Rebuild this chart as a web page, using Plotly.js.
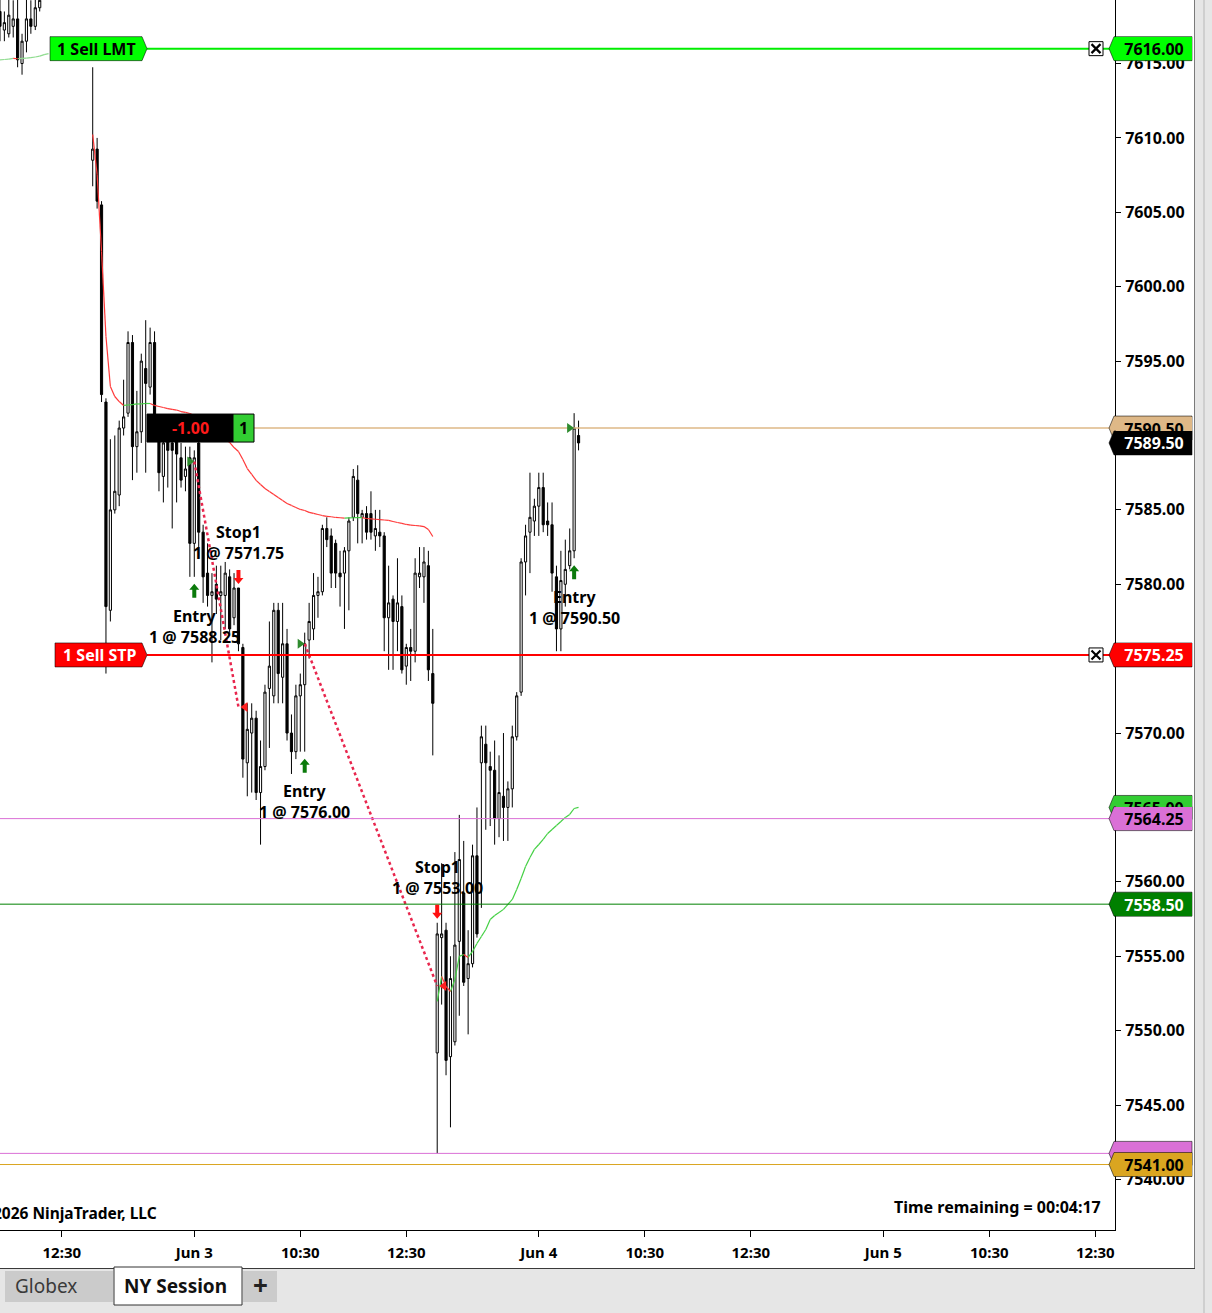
<!DOCTYPE html>
<html><head><meta charset="utf-8">
<script src="https://cdn.plot.ly/plotly-3.0.1.min.js"></script>
<style>html,body{margin:0;padding:0;background:#fff;overflow:hidden}#chart{width:1212px;height:1313px}</style>
</head><body><div id="chart"></div>
<script>
// ================= DATA =================
function seq(a, b) { const r = []; for (let i = a; i <= b; i++) r.push(i); return r; }

// bar slots (5-minute bars, 0 = Jun 3 session open)
const barIndex = seq(-44, -35).concat(seq(-23, 87));

const openP = [
  7618.5, 7617.25, 7617.0, 7617.5, 7618.0, 7615.0, 7616.5, 7618.0, 7617.5, 7618.75,
  7608.5, 7609.25, 7605.5, 7592.25, 7578.25, 7585.0, 7586.0, 7590.5, 7591.5, 7596.25,
  7589.25, 7590.25, 7594.5, 7593.25, 7596.25, 7590.25, 7587.25, 7590.0, 7589.5, 7589.75,
  7588.5, 7587.25, 7588.5, 7582.75, 7589.5, 7583.5, 7580.75, 7579.25, 7580.0, 7579.25,
  7579.25, 7580.5, 7577.75, 7579.75, 7575.75, 7568.0, 7570.0, 7571.0, 7566.0, 7567.75,
  7573.0, 7572.5, 7578.25, 7573.75, 7576.0, 7570.0, 7568.75, 7572.5, 7573.25, 7576.25,
  7577.0, 7579.25, 7579.5, 7583.75, 7583.25, 7582.75, 7580.75, 7580.75, 7582.25, 7584.5,
  7587.0, 7584.5, 7584.75, 7584.75, 7583.25, 7583.5, 7583.25, 7577.75, 7579.0, 7577.5,
  7578.5, 7574.5, 7575.75, 7575.5, 7580.5, 7580.5, 7581.25, 7574.0,
  7548.5, 7556.25, 7556.75, 7548.25, 7549.25, 7556.0, 7559.25, 7553.5, 7554.5, 7561.75,
  7568.0, 7569.25, 7567.75, 7567.5, 7564.25, 7565.75, 7565.0, 7566.25, 7569.75, 7572.75,
  7581.5, 7583.5, 7584.25, 7585.25, 7586.5, 7584.25, 7584.0, 7580.5, 7577.0, 7580.0,
  7581.25, 7582.25, 7590.0
];
const highP = [
  7619.5, 7618.5, 7619.5, 7619.25, 7619.5, 7617.0, 7619.5, 7619.25, 7619.5, 7620.0,
  7614.75, 7610.0, 7605.75, 7592.5, 7589.75, 7590.0, 7591.0, 7593.75, 7597.0, 7596.75,
  7593.0, 7595.5, 7597.75, 7597.25, 7597.0, 7591.0, 7591.0, 7591.25, 7590.75, 7590.5,
  7589.5, 7589.25, 7589.25, 7589.0, 7590.0, 7584.0, 7582.75, 7580.75, 7581.25, 7581.25,
  7581.5, 7581.0, 7580.75, 7579.75, 7576.0, 7572.0, 7572.0, 7571.5, 7569.5, 7573.25,
  7577.5, 7578.75, 7578.75, 7578.75, 7577.0, 7571.25, 7573.25, 7574.0, 7576.75, 7578.75,
  7580.75, 7580.5, 7584.0, 7584.5, 7583.75, 7583.0, 7582.25, 7582.5, 7584.5, 7587.75,
  7588.0, 7585.0, 7585.25, 7586.25, 7585.0, 7585.0, 7583.5, 7581.25, 7579.25, 7581.75,
  7579.25, 7576.0, 7577.0, 7581.75, 7582.5, 7582.5, 7582.25, 7577.0,
  7557.25, 7561.25, 7557.25, 7555.0, 7562.0, 7564.5, 7562.75, 7556.75, 7562.5, 7565.0,
  7570.5, 7570.5, 7568.75, 7569.5, 7568.5, 7570.0, 7566.75, 7570.5, 7572.75, 7581.75,
  7584.0, 7587.5, 7585.75, 7587.5, 7587.5, 7585.5, 7585.5, 7581.25, 7582.25, 7583.0,
  7583.75, 7591.5, 7591.0
];
const lowP = [
  7616.5, 7616.5, 7616.75, 7616.75, 7614.75, 7614.25, 7615.75, 7617.0, 7617.25, 7618.5,
  7606.75, 7605.25, 7592.25, 7574.0, 7577.5, 7584.75, 7585.25, 7590.0, 7591.25, 7587.0,
  7587.5, 7589.5, 7587.5, 7592.75, 7589.75, 7586.25, 7585.5, 7586.5, 7583.75, 7585.5,
  7586.5, 7586.25, 7580.5, 7580.5, 7581.75, 7578.75, 7578.5, 7574.75, 7578.0, 7576.25,
  7577.0, 7576.75, 7577.25, 7575.5, 7567.0, 7565.75, 7566.0, 7565.5, 7562.5, 7567.5,
  7569.0, 7572.0, 7572.0, 7572.0, 7569.5, 7567.25, 7568.25, 7568.75, 7568.75, 7575.0,
  7576.25, 7577.75, 7579.25, 7582.5, 7579.75, 7579.75, 7578.5, 7577.0, 7578.25, 7584.25,
  7582.75, 7582.75, 7583.0, 7583.0, 7582.25, 7582.5, 7575.5, 7574.25, 7574.25, 7575.5,
  7574.0, 7573.25, 7573.5, 7574.75, 7579.75, 7578.75, 7573.5, 7568.5,
  7541.75, 7551.75, 7547.0, 7543.5, 7549.0, 7551.0, 7553.0, 7549.75, 7554.25, 7556.25,
  7558.25, 7563.5, 7563.75, 7562.5, 7563.0, 7562.75, 7562.75, 7565.0, 7569.5, 7572.5,
  7579.25, 7580.75, 7583.25, 7583.25, 7583.5, 7583.25, 7579.5, 7575.5, 7575.5, 7578.5,
  7581.0, 7581.75, 7589.0
];
const closeP = [
  7617.5, 7617.75, 7618.25, 7618.0, 7615.25, 7616.5, 7618.0, 7617.5, 7618.75, 7619.25,
  7609.25, 7605.75, 7592.75, 7578.5, 7585.0, 7586.25, 7590.5, 7591.25, 7596.25, 7589.25,
  7590.25, 7595.0, 7593.5, 7596.25, 7590.5, 7587.5, 7589.5, 7589.0, 7589.0, 7588.75,
  7587.0, 7587.75, 7582.75, 7588.5, 7583.5, 7580.5, 7579.25, 7579.5, 7579.0, 7579.5,
  7580.75, 7577.0, 7579.75, 7576.0, 7568.25, 7570.25, 7571.0, 7566.0, 7567.75, 7572.75,
  7574.5, 7578.25, 7574.0, 7576.0, 7570.0, 7568.75, 7572.5, 7573.25, 7576.0, 7577.5,
  7579.25, 7579.5, 7583.75, 7583.0, 7580.75, 7580.75, 7580.5, 7582.25, 7584.25, 7587.25,
  7584.75, 7584.75, 7583.5, 7583.5, 7583.75, 7583.25, 7577.75, 7578.75, 7577.5, 7578.75,
  7574.25, 7575.75, 7575.5, 7580.75, 7580.75, 7581.5, 7574.25, 7572.0,
  7556.5, 7556.5, 7548.0, 7553.5, 7555.75, 7561.5, 7553.25, 7554.5, 7561.75, 7556.5,
  7569.75, 7568.0, 7567.5, 7564.25, 7566.0, 7565.0, 7566.25, 7569.75, 7572.5, 7581.5,
  7583.25, 7584.5, 7585.25, 7586.5, 7584.0, 7584.0, 7580.75, 7577.0, 7580.25, 7581.0,
  7582.25, 7590.5, 7589.5
];

// session VWAP
const vwap1Index = seq(-44, -33);
const vwap1 = [7615.24, 7615.27, 7615.30, 7615.35, 7615.32, 7615.34, 7615.37, 7615.40, 7615.44, 7615.50, 7615.60, 7615.67];
const vwap2Index = seq(-23, 54);
const vwap2 = [
  7610.23, 7607.54, 7602.37, 7596.65, 7593.29, 7592.62, 7592.28, 7592.02, 7592.05, 7592.08,
  7592.12, 7592.12, 7592.15, 7592.15, 7592.02, 7591.95, 7591.88, 7591.81, 7591.75, 7591.71,
  7591.61, 7591.55, 7591.48, 7591.34, 7591.21, 7591.08, 7590.81, 7590.60, 7590.34, 7590.07,
  7589.80, 7589.53, 7589.19, 7588.92, 7588.39, 7587.78, 7587.38, 7586.98, 7586.71, 7586.44,
  7586.24, 7586.03, 7585.83, 7585.63, 7585.43, 7585.30, 7585.16, 7585.03, 7584.96, 7584.83,
  7584.76, 7584.69, 7584.62, 7584.56, 7584.54, 7584.49, 7584.47, 7584.45, 7584.46, 7584.47,
  7584.48, 7584.48, 7584.42, 7584.39, 7584.37, 7584.35, 7584.32, 7584.29, 7584.22, 7584.15,
  7584.09, 7584.02, 7583.98, 7583.95, 7583.92, 7583.88, 7583.68, 7583.21
];
const vwap3Index = seq(55, 87);
const vwap3 = [
  7551.96, 7553.64, 7552.97, 7552.63, 7553.44, 7554.99, 7555.12, 7554.92, 7555.32, 7555.86,
  7556.33, 7556.80, 7557.47, 7557.74, 7557.94, 7558.15, 7558.48, 7558.82, 7559.49, 7560.23,
  7561.03, 7561.64, 7562.18, 7562.51, 7562.85, 7563.25, 7563.52, 7563.79, 7564.06, 7564.33,
  7564.53, 7564.93, 7565.00
];

// time axis
const tickBars = [-30, 0, 24, 48, 78, 102, 126, 156, 180, 204];
const tickLabels = ['12:30', 'Jun 3', '10:30', '12:30', 'Jun 4', '10:30', '12:30', 'Jun 5', '10:30', '12:30'];
// price axis labels left visible (the others sit under price tags)
const priceTicks = [7540, 7545, 7550, 7555, 7560, 7570, 7580, 7585, 7595, 7600, 7605, 7610, 7615];

// trades
const entryBars = [0, 25, 86];
const entryPrices = [7588.25, 7576.00, 7590.50];
const exitBars = [10, 55];
const exitPrices = [7571.75, 7553.00];
const exitNames = ['Stop1', 'Stop1'];
const tradeQty = 1;

// working orders
const orderPrices = [7616.00, 7575.25];
const orderLabels = ['1 Sell LMT', '1 Sell STP'];

// position / price markers
const positionPrice = 7590.50;
const positionPnl = '-1.00';
const positionQty = '1';
const lastPrice = 7589.50;
const vwapLast = 7565.00;
const levelPrices = [7564.25, 7558.50, 7541.75, 7541.00];

// ================= LAYOUT HELPERS =================
const F = '"Noto Sans", "Open Sans", sans-serif';
const PW = 1115, PH = 1230;
const px = x => x / PW;
const py = y => (PH - y) / PH;
const fmt = v => v.toFixed(2);
const barAt = i => barIndex.indexOf(i);

const traces = [];
traces.push({
  type: 'candlestick', x: barIndex, open: openP, high: highP, low: lowP, close: closeP,
  increasing: {line: {color: '#000', width: 1}, fillcolor: '#ffffff'},
  decreasing: {line: {color: '#000', width: 1}, fillcolor: '#000000'},
  whiskerwidth: 0, hoverinfo: 'skip', showlegend: false
});

function vwapTraces(xs, ys, gcol) {
  const g = {x: [], y: []}, r = {x: [], y: []};
  for (let i = 1; i < xs.length; i++) {
    const t = ys[i] >= ys[i - 1] ? g : r;
    t.x.push(xs[i - 1], xs[i], null); t.y.push(ys[i - 1], ys[i], null);
  }
  return [
    {type: 'scatter', mode: 'lines', x: g.x, y: g.y, line: {color: gcol, width: 1.2}, hoverinfo: 'skip', showlegend: false},
    {type: 'scatter', mode: 'lines', x: r.x, y: r.y, line: {color: '#ff3838', width: 1.2}, hoverinfo: 'skip', showlegend: false}
  ];
}
traces.push(...vwapTraces(vwap1Index, vwap1, '#8fdc8f'));
traces.push(...vwapTraces(vwap2Index, vwap2, '#44d044'));
traces.push(...vwapTraces(vwap3Index, vwap3, '#44d044'));

for (let i = 0; i < exitBars.length; i++) {
  traces.push({type: 'scatter', mode: 'lines', x: [entryBars[i], exitBars[i]], y: [entryPrices[i], exitPrices[i]],
    line: {color: '#e8264d', width: 2.5, dash: 'dot'}, hoverinfo: 'skip', showlegend: false});
}

const shapes = [];
const annotations = [];

// level lines
const lineSpec = [
  [orderPrices[0], '#00ee00', 2, 147], [orderPrices[1], '#ff0000', 2, 147],
  [positionPrice, '#deb887', 1.5, 254],
  [levelPrices[0], '#da70d6', 1, 0], [levelPrices[1], '#008000', 1, 0],
  [levelPrices[2], '#da70d6', 1, 0], [levelPrices[3], '#daa520', 1, 0]
];
lineSpec.forEach(([p, c, w, x0]) => shapes.push({type: 'line', layer: 'above', xref: 'paper', yref: 'y',
  x0: px(x0), x1: 1, y0: p, y1: p, line: {color: c, width: w}}));

// right price tags (later ones lie over earlier ones)
function rightTag(p, bg, fg, text) {
  shapes.push({type: 'path', layer: 'above', xref: 'paper', yref: 'y', xsizemode: 'pixel', ysizemode: 'pixel',
    xanchor: 1, yanchor: p, path: 'M-6,0 L-1,12 L77,12 L77,-12 L-1,-12 Z',
    fillcolor: bg, line: {color: 'rgba(0,0,0,0.55)', width: 1}});
  if (text) annotations.push({xref: 'paper', yref: 'y', x: 1, y: p, xshift: 38.5, showarrow: false, text: text,
    width: 76, height: 23, borderpad: 0, borderwidth: 0, bgcolor: bg,
    font: {family: F, size: 16, color: fg, weight: 700}});
}
rightTag(orderPrices[0], '#00ff00', '#000', fmt(orderPrices[0]));
rightTag(orderPrices[1], '#ff0000', '#fff', fmt(orderPrices[1]));
rightTag(vwapLast, '#32cd32', '#000', fmt(vwapLast));
rightTag(levelPrices[0], '#da70d6', '#000', fmt(levelPrices[0]));
rightTag(levelPrices[1], '#008000', '#fff', fmt(levelPrices[1]));
rightTag(levelPrices[2], '#da70d6', '#000', '');
rightTag(levelPrices[3], '#daa520', '#000', fmt(levelPrices[3]));
rightTag(positionPrice, '#deb887', '#000', fmt(positionPrice));
rightTag(lastPrice, '#000000', '#fff', fmt(lastPrice));

// left order tags + cancel boxes
const orderTagWidth = [97, 92];
const orderTagColor = [['#00ff00', '#000'], ['#ff0000', '#fff']];
orderPrices.forEach((p, i) => {
  const w = orderTagWidth[i];
  shapes.push({type: 'path', layer: 'above', xref: 'paper', yref: 'y', xsizemode: 'pixel', ysizemode: 'pixel',
    xanchor: px(147), yanchor: p, path: `M0,0 L-5,12 L-${w},12 L-${w},-12 L-5,-12 Z`,
    fillcolor: orderTagColor[i][0], line: {color: 'rgba(0,0,0,0.55)', width: 1}});
  annotations.push({xref: 'paper', yref: 'y', x: px(147 - (w + 4) / 2), y: p, showarrow: false, text: orderLabels[i],
    font: {family: F, size: 16, color: orderTagColor[i][1], weight: 700}});
  shapes.push({type: 'path', layer: 'above', xref: 'paper', yref: 'y', xsizemode: 'pixel', ysizemode: 'pixel',
    xanchor: px(1096), yanchor: p, path: 'M-7,-7 L7,-7 L7,7 L-7,7 Z', fillcolor: '#fff', line: {color: '#000', width: 1}});
  shapes.push({type: 'path', layer: 'above', xref: 'paper', yref: 'y', xsizemode: 'pixel', ysizemode: 'pixel',
    xanchor: px(1096), yanchor: p, path: 'M-4.5,-4.5 L4.5,4.5 M-4.5,4.5 L4.5,-4.5', line: {color: '#000', width: 2.2}});
});

// position box
shapes.push({type: 'path', layer: 'above', xref: 'paper', yref: 'y', xsizemode: 'pixel', ysizemode: 'pixel',
  xanchor: px(147), yanchor: positionPrice, path: 'M0,-14 L86,-14 L86,14 L0,14 Z', fillcolor: '#000', line: {color: '#000', width: 1}});
shapes.push({type: 'path', layer: 'above', xref: 'paper', yref: 'y', xsizemode: 'pixel', ysizemode: 'pixel',
  xanchor: px(147), yanchor: positionPrice, path: 'M86,-14 L107,-14 L107,14 L86,14 Z', fillcolor: '#32cd32', line: {color: '#000', width: 1}});
annotations.push({xref: 'paper', yref: 'y', x: px(190), y: positionPrice, showarrow: false, text: positionPnl,
  font: {family: F, size: 16, color: '#ff1a1a', weight: 700}});
annotations.push({xref: 'paper', yref: 'y', x: px(243.5), y: positionPrice, showarrow: false, text: positionQty,
  font: {family: F, size: 16, color: '#000', weight: 700}});

// trade markers
const tf = {family: F, size: 16, color: '#000', weight: 700};
entryBars.forEach((b, i) => {
  const low = lowP[barAt(b)];
  shapes.push({type: 'path', layer: 'above', xref: 'x', yref: 'y', xsizemode: 'pixel', ysizemode: 'pixel',
    xanchor: b, yanchor: entryPrices[i], path: 'M0,0 L-7,5 L-7,-5 Z', fillcolor: '#2e8b2e', line: {width: 0}});
  shapes.push({type: 'path', layer: 'above', xref: 'x', yref: 'y', xsizemode: 'pixel', ysizemode: 'pixel',
    xanchor: b, yanchor: low, path: 'M0,-7 L5,-13 L2,-13 L2,-21 L-2,-21 L-2,-13 L-5,-13 Z', fillcolor: '#0b7a0b', line: {width: 0}});
  annotations.push({x: b, y: low, yshift: -39, showarrow: false, text: 'Entry', font: tf});
  annotations.push({x: b, y: low, yshift: -60, showarrow: false, text: tradeQty + ' @ ' + fmt(entryPrices[i]), font: tf});
});
exitBars.forEach((b, i) => {
  const high = highP[barAt(b)];
  shapes.push({type: 'path', layer: 'above', xref: 'x', yref: 'y', xsizemode: 'pixel', ysizemode: 'pixel',
    xanchor: b, yanchor: exitPrices[i], path: 'M2,0 L9,5 L9,-5 Z', fillcolor: '#ff2020', line: {width: 0}});
  shapes.push({type: 'path', layer: 'above', xref: 'x', yref: 'y', xsizemode: 'pixel', ysizemode: 'pixel',
    xanchor: b, yanchor: high, path: 'M0,4 L5,10 L2,10 L2,18 L-2,18 L-2,10 L-5,10 Z', fillcolor: '#ff1010', line: {width: 0}});
  annotations.push({x: b, y: high, yshift: 56, showarrow: false, text: exitNames[i], font: tf});
  annotations.push({x: b, y: high, yshift: 35, showarrow: false, text: tradeQty + ' @ ' + fmt(exitPrices[i]), font: tf});
});

// footer texts inside plot
annotations.push({xref: 'paper', yref: 'paper', x: px(1103), y: py(1207), xanchor: 'right', showarrow: false,
  text: 'Time remaining = 00:04:17', font: {family: F, size: 16, color: '#000', weight: 700}});
annotations.push({xref: 'paper', yref: 'paper', x: px(159), y: py(1213), xanchor: 'right', showarrow: false,
  text: '© 2026 NinjaTrader, LLC', font: {family: F, size: 15.5, color: '#000', weight: 700}});

// window chrome
const rect = (x0, y0, x1, y1, fill, line) => shapes.push({type: 'rect', layer: 'above', xref: 'paper', yref: 'paper',
  x0: px(x0), x1: px(x1), y0: py(y1), y1: py(y0), fillcolor: fill, line: line || {width: 0}});
const seg = (x0, y0, x1, y1, col, w) => shapes.push({type: 'line', layer: 'above', xref: 'paper', yref: 'paper',
  x0: px(x0), x1: px(x1), y0: py(y0), y1: py(y1), line: {color: col, width: w}});
rect(0, 1269, 1212, 1313, '#e6e6e6');
rect(1195, 0, 1212, 1313, '#e6e6e6');
seg(1204, 0, 1204, 1313, '#cfcfcf', 2);
seg(1194.5, 0, 1194.5, 1268, '#7a7a7a', 1);
seg(0, 1268.5, 1195, 1268.5, '#3a3a3a', 1);
rect(5, 1271, 113, 1302, '#cbcbcb');
rect(243, 1271, 277, 1302, '#cbcbcb');
rect(114, 1267, 242, 1305, '#ffffff', {color: '#333', width: 1});
annotations.push({xref: 'paper', yref: 'paper', x: px(13), y: py(1286), xanchor: 'left', showarrow: false,
  text: 'Globex', font: {family: F, size: 19, color: '#3a3a3a'}});
annotations.push({xref: 'paper', yref: 'paper', x: px(175), y: py(1286), showarrow: false,
  text: 'NY Session', font: {family: F, size: 19, color: '#111', weight: 700}});
annotations.push({xref: 'paper', yref: 'paper', x: px(260), y: py(1285), showarrow: false,
  text: '+', font: {family: F, size: 26, color: '#222', weight: 700}});

annotations.forEach(a => { if (!a.xanchor) a.xanchor = 'center'; if (!a.yanchor) a.yanchor = 'middle'; });

const layout = {
  width: 1212, height: 1313, margin: {l: 0, r: 97, t: 0, b: 83, pad: 0},
  paper_bgcolor: '#fff', plot_bgcolor: '#fff', showlegend: false, dragmode: false,
  xaxis: {range: [-43.99, 208.46], showgrid: false, zeroline: false, tickmode: 'array',
    tickvals: tickBars, ticktext: tickLabels, ticks: 'outside', ticklen: 6, tickcolor: '#000',
    showline: true, linecolor: '#000', linewidth: 1, ticklabelstandoff: 3,
    tickfont: {family: F, size: 15, color: '#000', weight: 700}, rangeslider: {visible: false}, fixedrange: true},
  yaxis: {range: [7536.6, 7619.27], side: 'right', showgrid: false, zeroline: false,
    tickmode: 'array', tickvals: priceTicks, tickformat: '.2f', ticks: 'outside', ticklen: 5, tickcolor: '#000',
    showline: true, linecolor: '#000', linewidth: 1, ticklabelstandoff: 1,
    tickfont: {family: F, size: 16, color: '#000', weight: 700}, fixedrange: true},
  shapes: shapes, annotations: annotations
};

Plotly.newPlot('chart', traces, layout, {staticPlot: true, displayModeBar: false});
</script>
</body></html>
